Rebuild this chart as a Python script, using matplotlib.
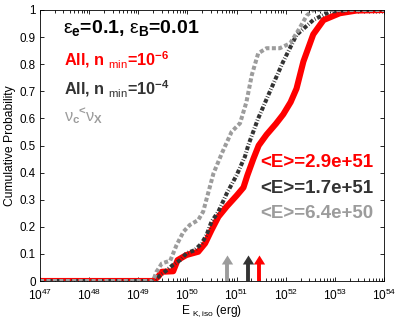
import numpy as np
import matplotlib
matplotlib.use('Agg')
import matplotlib.pyplot as plt
from matplotlib.path import Path
from matplotlib.ticker import LogLocator, NullFormatter, FuncFormatter

plt.rcParams['font.family'] = ['Liberation Sans', 'DejaVu Sans']
plt.rcParams['mathtext.default'] = 'regular'
plt.rcParams['mathtext.fontset'] = 'custom'
plt.rcParams['mathtext.rm'] = 'Liberation Sans'
plt.rcParams['mathtext.bf'] = 'Liberation Sans:bold'
plt.rcParams['mathtext.it'] = 'Liberation Sans:italic'

# ---- data (log10 of E_K,iso in erg, cumulative probability) ----
logE_red = [47, 49.3, 49.4, 49.48, 49.71, 49.8, 49.98, 50.22, 50.36, 50.49, 50.63,
            50.8, 51.0, 51.14, 51.22, 51.34, 51.45, 51.61, 51.8, 51.95, 52.1,
            52.22, 52.36, 52.56, 52.77, 53.1, 53.44, 54]
cdf_red = [0, 0, 0.015, 0.034, 0.036, 0.077, 0.096, 0.108, 0.139, 0.188, 0.237,
           0.275, 0.315, 0.345, 0.39, 0.45, 0.5, 0.54, 0.58, 0.615, 0.66,
           0.71, 0.81, 0.91, 0.963, 0.988, 0.998, 1.0]

logE_black = [47, 49.3, 49.37, 49.54, 49.71, 49.85, 49.98, 50.15, 50.29, 50.39,
              50.49, 50.63, 50.8, 51.0, 51.17, 51.24, 51.44, 51.68, 51.95, 52.22,
              52.56, 52.9, 53.3, 54]
cdf_black = [0, 0, 0.01, 0.034, 0.06, 0.077, 0.102, 0.114, 0.139, 0.17,
             0.219, 0.256, 0.323, 0.39, 0.459, 0.502, 0.60, 0.70, 0.81, 0.908,
             0.963, 0.994, 1.0, 1.0]

logE_gray = [47, 49.3, 49.37, 49.48, 49.65, 49.78, 49.92, 50.05, 50.22, 50.32,
             50.42, 50.53, 50.7, 50.9, 51.07, 51.2, 51.31, 51.44, 51.61, 51.88,
             52.09, 52.26, 52.43, 52.56, 54]
cdf_gray = [0, 0, 0.034, 0.065, 0.075, 0.133, 0.182, 0.207, 0.225, 0.256,
            0.323, 0.397, 0.471, 0.551, 0.582, 0.66, 0.76, 0.84, 0.859, 0.859,
            0.877, 0.926, 0.98, 1.0, 1.0]

mean_E = [2.9e51, 1.7e51, 6.4e50]          # red, black, gray
x_decades = list(range(47, 55))
y_ticks = [0, 0.1, 0.2, 0.3, 0.4, 0.5, 0.6, 0.7, 0.8, 0.9, 1]

RED = '#ff0000'
DARK = '#333333'
GRAY = '#9c9c9c'
colors = [RED, DARK, GRAY]

fig = plt.figure(figsize=(3.99, 3.19), dpi=100)
ax = fig.add_axes([40/399, 1-281/319, 344/399, 271/319])

ax.plot(10**np.array(logE_red), cdf_red, color=RED, lw=4.4,
        solid_joinstyle='round', solid_capstyle='butt')
ax.plot(10**np.array(logE_black), cdf_black, color=DARK, lw=2.9,
        dashes=(1.0, 0.45, 0.2, 0.45), dash_capstyle='butt')
ax.plot(10**np.array(logE_gray), cdf_gray, color=GRAY, lw=2.9,
        dashes=(1.0, 0.6), dash_capstyle='butt')

# arrows marking the means
head = Path([(-1, 0), (1, 0), (0, 1.6), (-1, 0)],
            [Path.MOVETO, Path.LINETO, Path.LINETO, Path.CLOSEPOLY])
base_y = 0.062
for m, c in zip(mean_E, colors):
    ax.plot([m, m], [0, base_y + 0.003], color=c, lw=2.8, solid_capstyle='butt')
    ax.plot([m], [base_y], marker=head, ms=13, color=c, mew=0, ls='none')

ax.set_xscale('log')
ax.set_xlim(10.0**x_decades[0], 10.0**x_decades[-1])
ax.set_ylim(0, 1)
ax.set_xticks([10.0**d for d in x_decades])
ax.xaxis.set_minor_locator(LogLocator(base=10, subs=np.arange(2, 10), numticks=100))
ax.xaxis.set_minor_formatter(NullFormatter())
ax.set_yticks(y_ticks)
ax.yaxis.set_major_formatter(FuncFormatter(lambda v, p: '%g' % v))

ax.tick_params(which='both', direction='in', top=True, right=True,
               width=0.6, colors='black')
ax.tick_params(axis='x', labelsize=8.6, pad=5.2)
ax.tick_params(axis='y', labelsize=8.4, pad=3)
ax.tick_params(which='major', length=3.2)
ax.tick_params(which='minor', length=2.0)
for s in ax.spines.values():
    s.set_linewidth(0.6)

ax.set_ylabel('Cumulative Probability', fontsize=8.7, labelpad=3)
ax.set_xlabel(r'E $_{K,iso}$ (erg)', fontsize=8.6, labelpad=0)

ax.text(0.068, 0.914, r'$\mathrm{ε}_e$=0.1, $\mathrm{ε}_B$=0.01',
        transform=ax.transAxes, fontsize=14, fontweight='bold', color='black',
        va='baseline', ha='left')
ax.text(0.071, 0.791, r'All, n $_{\mathrm{min}}$=10$^{-6}$',
        transform=ax.transAxes, fontsize=11.7, fontweight='bold', color=RED,
        va='baseline', ha='left')
ax.text(0.071, 0.686, r'All, n $_{\mathrm{min}}$=10$^{-4}$',
        transform=ax.transAxes, fontsize=11.7, fontweight='bold', color=DARK,
        va='baseline', ha='left')
ax.text(0.071, 0.59, r'$\mathrm{ν}_c\!{}^{<}\!\mathrm{ν}_X$',
        transform=ax.transAxes, fontsize=11.7, fontweight='bold', color=GRAY,
        va='baseline', ha='left')

for m, c, yy in zip(mean_E, colors, [0.422, 0.324, 0.231]):
    ax.text(0.64, yy, '<E>=%.1e' % m, transform=ax.transAxes, fontsize=13.5,
            fontweight='bold', color=c, va='baseline', ha='left')

fig.savefig('out.png', dpi=100)
